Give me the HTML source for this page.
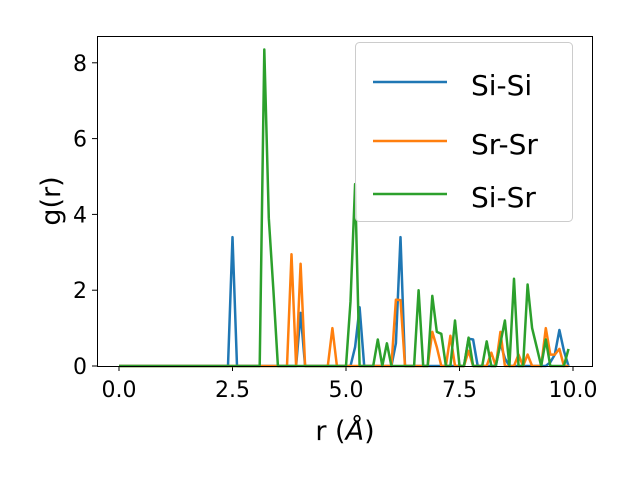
<!DOCTYPE html>
<html><head><meta charset="utf-8"><style>
body{margin:0;background:#fff;}
svg{display:block;font-family:"DejaVu Sans","Liberation Sans",sans-serif;}
</style></head><body>
<svg id="chart" width="640" height="480" viewBox="0 0 640 480" xmlns="http://www.w3.org/2000/svg">
<rect width="640" height="480" fill="#fff"/>
<g id="ticks"></g>
<g id="lines"></g>
<rect x="97.5" y="36.5" width="495" height="330" fill="none" stroke="#000" stroke-width="1"/>
<text x="345" y="440" font-size="27" text-anchor="middle">r (<tspan font-style="italic">Å</tspan>)</text>
<text transform="translate(60,201) rotate(-90)" font-size="27" text-anchor="middle">g(r)</text>
<g>
<rect x="355.5" y="42.5" width="217" height="179" rx="4" fill="#fff" fill-opacity="0.8" stroke="#ccc"/>
<line x1="373" y1="82" x2="447" y2="82" stroke="#1f77b4" stroke-width="2.5"/>
<text x="471" y="95" font-size="28">Si-Si</text>
<line x1="373" y1="141" x2="447" y2="141" stroke="#ff7f0e" stroke-width="2.5"/>
<text x="471" y="154" font-size="28">Sr-Sr</text>
<line x1="373" y1="194" x2="447" y2="194" stroke="#2ca02c" stroke-width="2.5"/>
<text x="471" y="207" font-size="28">Si-Sr</text>
</g>
</svg>
<script>
const rValues = Array.from({length:100},(_,i)=>+(i*0.1).toFixed(1));
const siSi = [0,0,0,0,0,0,0,0,0,0, 0,0,0,0,0,0,0,0,0,0, 0,0,0,0,0,3.4,0,0,0,0,
 0,0,0,0,0,0,0,0,0,0, 1.4,0,0,0,0,0,0,0,0,0, 0,0,0.5,1.55,0,0,0,0,0,0,
 0,0.6,3.4,0,0,0,0,0,0,0, 0,0,0,0,0,0,0,0.72,0.7,0, 0,0,0,0,0.6,0.2,0,0,0,0,
 0,0,0,0,0,0.1,0.3,0.95,0.4,0];
const srSr = [0,0,0,0,0,0,0,0,0,0, 0,0,0,0,0,0,0,0,0,0, 0,0,0,0,0,0,0,0,0,0,
 0,0,0,0,0,0,0,0,2.95,0, 2.7,0,0,0,0,0,0,1.0,0,0, 0,0,0,0,0,0,0,0,0,0,
 0,1.75,1.74,0,0,0,0,0,0,0.9, 0.5,0,0,0.8,0,0,0,0.4,0,0, 0,0,0.35,0,0.9,0,0,0,0.3,0,
 0.3,0,0,0,1.0,0.3,0.3,0.45,0,0];
const siSr = [0,0,0,0,0,0,0,0,0,0, 0,0,0,0,0,0,0,0,0,0, 0,0,0,0,0,0,0,0,0,0,
 0,0,8.35,3.9,2.0,0,0,0,0,0, 0,0,0,0,0,0,0,0,0,0, 0,1.7,4.8,0,0,0,0,0.7,0,0.6,
 0,0,0,0,0,0,2.0,0,0,1.85, 0.9,0.85,0,0,1.2,0,0,0.75,0,0, 0,0.65,0,0,0.6,1.2,0,2.3,0,0,
 2.15,1.0,0.5,0,0.7,0,0,0,0,0.45];
const xTicks = [0,2.5,5,7.5,10];
const xTickLabels = ["0.0","2.5","5.0","7.5","10.0"];
const yTicks = [0,2,4,6,8];
const yTickLabels = ["0","2","4","6","8"];
const X = v => 119 + v*45.4;
const Y = v => 366 - v*37.9;
const NS="http://www.w3.org/2000/svg";
const tg=document.getElementById('ticks');
xTicks.forEach((t,i)=>{
  const l=document.createElementNS(NS,'line');
  
  
  l.setAttribute('x1',X(t));l.setAttribute('x2',X(t));l.setAttribute('y1',366);l.setAttribute('y2',371);l.setAttribute('stroke','#000');
  tg.appendChild(l);
  const tx=document.createElementNS(NS,'text');
  
  
  tx.setAttribute('x',X(t));tx.setAttribute('y',397);tx.setAttribute('font-size','22');tx.setAttribute('text-anchor','middle');
  tx.textContent=xTickLabels[i];tg.appendChild(tx);
});
yTicks.forEach((t,i)=>{
  const l=document.createElementNS(NS,'line');
  
  
  l.setAttribute('x1',92);l.setAttribute('x2',97);l.setAttribute('y1',Y(t));l.setAttribute('y2',Y(t));l.setAttribute('stroke','#000');
  tg.appendChild(l);
  const tx=document.createElementNS(NS,'text');
  
  
  tx.setAttribute('x',87);tx.setAttribute('y',Y(t)+8);tx.setAttribute('font-size','22');tx.setAttribute('text-anchor','end');
  tx.textContent=yTickLabels[i];tg.appendChild(tx);
});
const lg=document.getElementById('lines');
[[siSi,'#1f77b4','line-si-si'],[srSr,'#ff7f0e','line-sr-sr'],[siSr,'#2ca02c','line-si-sr']].forEach(([d,c,n])=>{
  const p=document.createElementNS(NS,'polyline');
  
  
  p.setAttribute('points',d.map((v,i)=>X(rValues[i]).toFixed(1)+','+Y(v).toFixed(1)).join(' '));
  p.setAttribute('fill','none');p.setAttribute('stroke',c);p.setAttribute('stroke-width','2.5');p.setAttribute('stroke-linejoin','round');
  lg.appendChild(p);
});
</script>
</body></html>
